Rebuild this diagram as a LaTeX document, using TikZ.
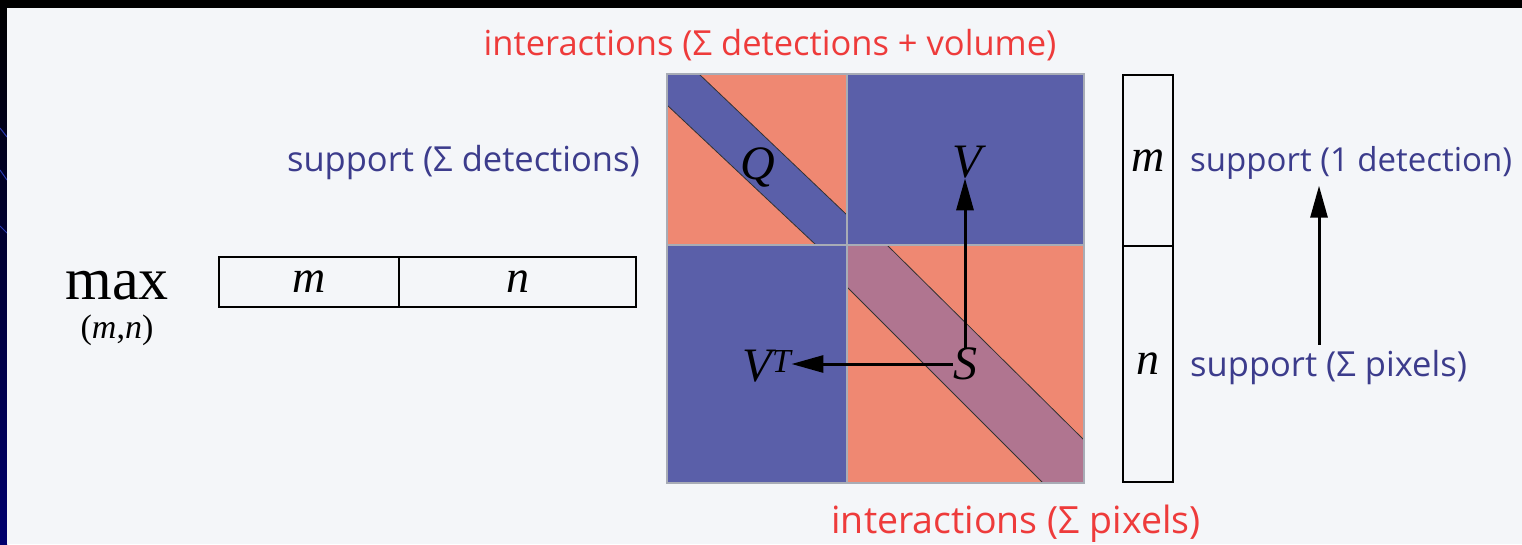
\documentclass[tikz,border=0pt]{standalone}
\usepackage{fontspec}
\setmainfont{Open Sans}
\newfontfamily\tms{Liberation Serif}
\usetikzlibrary{arrows.meta,positioning,calc}
\definecolor{Panel}{HTML}{F4F6F9}
\definecolor{Navy}{HTML}{00006E}
\definecolor{Streak}{HTML}{2A3AB0}
\definecolor{Blu}{HTML}{5A5FA9}
\definecolor{Salmon}{HTML}{EF8872}
\definecolor{Band}{HTML}{B07590}
\definecolor{Edge}{HTML}{6B2A20}
\definecolor{Grid}{HTML}{A8ACB6}
\definecolor{TextBlue}{HTML}{3C3C8C}
\definecolor{TextRed}{HTML}{EE3B3B}
\tikzset{
  lbl/.style={font=\fontsize{34.5}{40}\selectfont, inner sep=0pt},
  bluelbl/.style={lbl, text=TextBlue},
  redlbl/.style={lbl, text=TextRed},
  var/.style={font=\tms\itshape\fontsize{48}{52}\selectfont, inner sep=0pt},
  cell/.style={draw=black, line width=1.5pt, outer sep=0pt, inner sep=0pt,
    font=\tms\itshape\fontsize{46}{50}\selectfont},
  arr/.style={black, line width=3pt, -{Triangle[length=32pt,width=17pt]}},
}

\begin{document}
\begin{tikzpicture}[x=1pt, y=-1pt]
  \useasboundingbox (0,0) rectangle (1522,544);
  % slide background
  \fill[black] (0,0) rectangle (1522,544);
  \shade[top color=black, bottom color=Navy] (0,0) rectangle (7,544);
  \draw[Streak, line width=1pt] (0,128) -- (7,137);
  \draw[Streak, line width=1pt] (0,170) -- (7,180);
  \draw[Streak, line width=1pt] (0,226) -- (7,233);
  \fill[Panel] (7,8) rectangle (1522,544);

  % max over (m,n)
  \node[font=\tms\fontsize{60}{64}\selectfont, inner sep=0pt] (mx) at (117,286) {max};
  \node[font=\tms\fontsize{34}{38}\selectfont, inner sep=0pt] (mn) at (117,330) {(\textit{m},\textit{n})};

  % horizontal vector
  \node[cell, minimum width=180pt, minimum height=50pt] (hm) at (309,282) {m};
  \node[cell, minimum width=237pt, minimum height=50pt, right=0pt of hm] (hn) {n};

  % block matrix
  \fill[Salmon] (667,74) rectangle (847,245);
  \fill[Blu] (847,74) rectangle (1084,245);
  \fill[Blu] (667,245) rectangle (847,483);
  \fill[Salmon] (847,245) rectangle (1084,483);
  \fill[Blu] (667,74) -- (699,74) -- (847,215) -- (847,245) -- (816,245) -- (667,105) -- cycle;
  \fill[Band] (847,245) -- (887,245) -- (1084,440) -- (1084,483) -- (1043,483) -- (847,287) -- cycle;
  \draw[black!80, line width=0.8pt] (699,74) -- (847,215);
  \draw[black!80, line width=0.8pt] (667,105) -- (816,245);
  \draw[black!80, line width=0.8pt] (887,245) -- (1084,440);
  \draw[black!80, line width=0.8pt] (847,287) -- (1043,483);
  \draw[Edge, line width=1.5pt] (667,105) -- (667,245);
  \draw[Edge, line width=1.5pt] (1084,245) -- (1084,440);
  \draw[Grid, line width=2pt] (847,74) -- (847,483);
  \draw[Grid, line width=2pt] (667,245) -- (1084,245);
  \draw[Grid, line width=1.5pt] (667,74) rectangle (1084,483);

  \node[var] (Q) at (758,167) {Q};
  \node[var] (V) at (967,162) {V};
  \node[var] (VT) at (767,366) {V\textsuperscript{T}};
  \node[var] (S) at (965,364) {S};
  \draw[arr] (S.north) -- (S.north |- V.south);
  \draw[arr] (S.west) -- (S.west -| VT.east);

  % vertical vector
  \node[cell, minimum width=50pt, minimum height=171pt] (vm) at (1148,160.5) {m};
  \node[cell, minimum width=50pt, minimum height=236pt, below=0pt of vm] (vn) {n};

  % labels
  \node[redlbl] (top) at (770,45) {interactions (Σ detections + volume)};
  \node[redlbl, font=\fontsize{37.5}{42}\selectfont] (bot) at (1016,524) {interactions (Σ pixels)};
  \node[bluelbl, anchor=east] (sdet) at (640,163) {support (Σ detections)};
  \node[bluelbl, anchor=west, font=\fontsize{33}{38}\selectfont] (sone) at (1190,163) {support (1 detection)};
  \node[bluelbl, anchor=west] (spix) at (1190,368) {support (Σ pixels)};
  \coordinate (ax) at (1319,0);
  \draw[arr, shorten >=6pt] (spix.north -| ax) ++(0,-6) -- (sone.south -| ax);
\end{tikzpicture}
\end{document}
